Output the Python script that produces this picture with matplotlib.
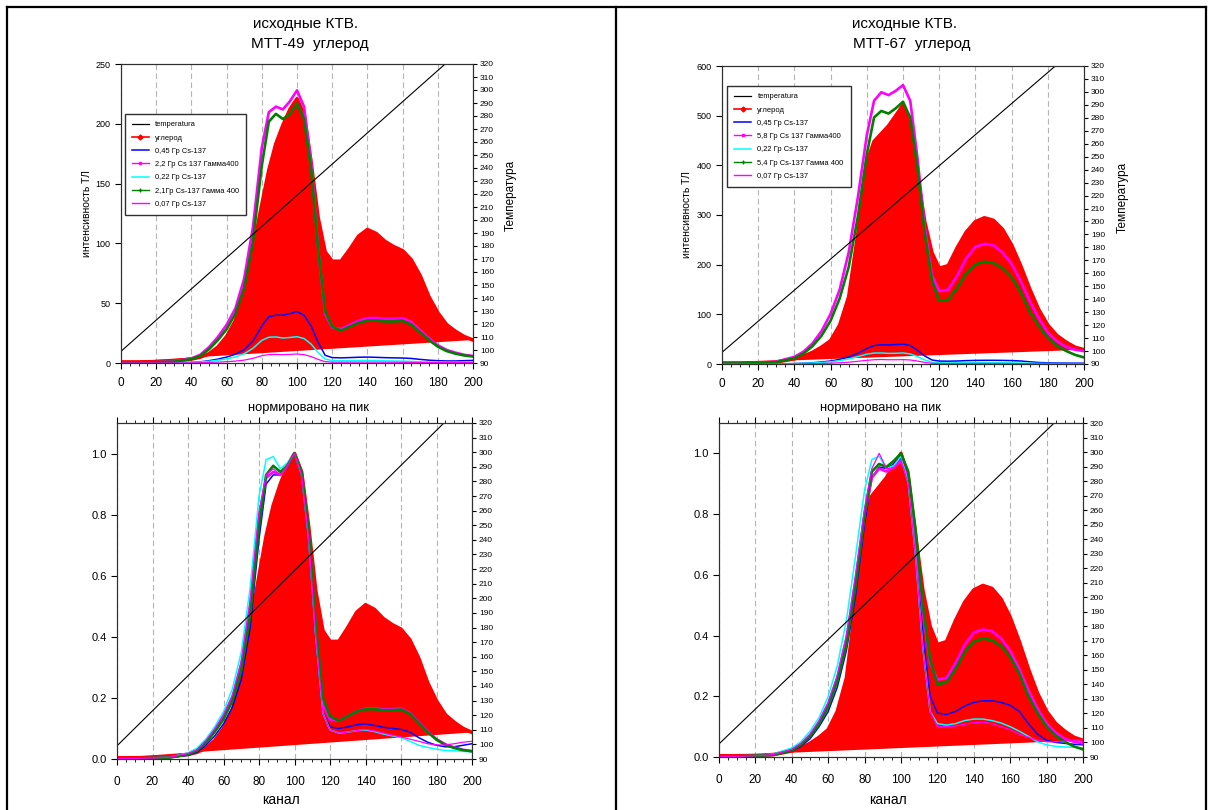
import matplotlib
matplotlib.use("Agg")
import matplotlib.pyplot as plt
from matplotlib.lines import Line2D
from matplotlib.ticker import MultipleLocator, FormatStrFormatter
import numpy as np

plt.rcParams['font.family'] = ['Liberation Sans', 'DejaVu Sans']

# channel grid (denser around the main peak)
channels = [0, 10, 20, 30, 40, 45, 50, 55, 60, 65, 70, 75, 80,
            84, 88, 92, 96, 100, 104, 108, 112, 116,
            120, 125, 130, 135, 140, 145, 150, 155, 160, 165, 170, 175, 180, 185, 190, 195, 200]

temp_ch = [0, 200]
temperature = [99, 339]

# ---- MTT-49 (left), curves normalised to peak ----
l_carbon = [0.004, 0.004, 0.005, 0.008, 0.015, 0.022, 0.035, 0.06, 0.1, 0.16, 0.28, 0.43, 0.6,
            0.73, 0.83, 0.9, 0.96, 1.0, 0.94, 0.76, 0.55, 0.42,
            0.385, 0.385, 0.43, 0.48, 0.505, 0.49, 0.46, 0.44, 0.425, 0.39, 0.33, 0.25, 0.19, 0.145, 0.12, 0.1, 0.087]
l_045 = [0.002, 0.002, 0.003, 0.005, 0.012, 0.022, 0.045, 0.075, 0.115, 0.17, 0.26, 0.43, 0.72,
         0.9, 0.93, 0.93, 0.96, 1.0, 0.93, 0.72, 0.4, 0.15,
         0.105, 0.1, 0.105, 0.112, 0.115, 0.11, 0.104, 0.1, 0.097, 0.088, 0.07, 0.055, 0.045, 0.04, 0.04, 0.045, 0.05]
l_22 = [0.002, 0.002, 0.003, 0.006, 0.017, 0.03, 0.058, 0.095, 0.14, 0.2, 0.31, 0.5, 0.79,
        0.92, 0.94, 0.93, 0.96, 1.0, 0.94, 0.74, 0.42, 0.18,
        0.13, 0.125, 0.14, 0.155, 0.165, 0.165, 0.163, 0.163, 0.165, 0.15, 0.12, 0.09, 0.065, 0.048, 0.038, 0.03, 0.026]
l_022 = [0.002, 0.002, 0.003, 0.006, 0.02, 0.035, 0.065, 0.105, 0.155, 0.23, 0.35, 0.56, 0.86,
         0.98, 0.99, 0.95, 0.97, 1.0, 0.93, 0.72, 0.4, 0.15,
         0.095, 0.085, 0.088, 0.093, 0.095, 0.09, 0.082, 0.076, 0.07, 0.058, 0.045, 0.038, 0.032, 0.028, 0.027, 0.025, 0.024]
l_21 = [0.002, 0.002, 0.003, 0.005, 0.015, 0.027, 0.053, 0.088, 0.13, 0.19, 0.29, 0.47, 0.76,
        0.93, 0.96, 0.94, 0.96, 1.0, 0.94, 0.75, 0.44, 0.2,
        0.14, 0.125, 0.14, 0.155, 0.163, 0.163, 0.16, 0.16, 0.162, 0.148, 0.118, 0.088, 0.063, 0.046, 0.036, 0.029, 0.025]
l_007 = [0.002, 0.002, 0.003, 0.006, 0.018, 0.03, 0.06, 0.098, 0.145, 0.21, 0.32, 0.52, 0.81,
         0.93, 0.95, 0.93, 0.96, 1.0, 0.93, 0.72, 0.4, 0.15,
         0.095, 0.085, 0.088, 0.093, 0.097, 0.092, 0.085, 0.078, 0.072, 0.065, 0.058, 0.05, 0.046, 0.046, 0.05, 0.055, 0.058]
l_peaks = [221, 43, 228, 22, 217, 7.5]

# ---- MTT-67 (right), curves normalised to peak ----
r_carbon = [0.004, 0.004, 0.005, 0.008, 0.02, 0.03, 0.045, 0.065, 0.09, 0.15, 0.26, 0.5, 0.78,
            0.86, 0.89, 0.92, 0.96, 1.0, 0.92, 0.73, 0.55, 0.43,
            0.37, 0.38, 0.45, 0.51, 0.55, 0.565, 0.555, 0.52, 0.46, 0.38, 0.29, 0.21, 0.15, 0.11, 0.085, 0.065, 0.055]
r_045 = [0.002, 0.002, 0.004, 0.006, 0.02, 0.035, 0.06, 0.1, 0.15, 0.23, 0.35, 0.53, 0.77,
         0.92, 0.955, 0.95, 0.965, 0.985, 0.92, 0.68, 0.4, 0.2,
         0.145, 0.14, 0.15, 0.168, 0.18, 0.185, 0.185, 0.18, 0.17, 0.15, 0.11, 0.075, 0.055, 0.048, 0.045, 0.042, 0.04]
r_58 = [0.002, 0.002, 0.004, 0.008, 0.025, 0.043, 0.072, 0.115, 0.175, 0.26, 0.39, 0.58, 0.8,
        0.92, 0.95, 0.94, 0.955, 0.975, 0.92, 0.72, 0.48, 0.31,
        0.255, 0.26, 0.31, 0.37, 0.41, 0.42, 0.415, 0.39, 0.35, 0.29, 0.22, 0.16, 0.11, 0.08, 0.06, 0.05, 0.045]
r_022 = [0.002, 0.002, 0.004, 0.01, 0.03, 0.05, 0.085, 0.13, 0.2, 0.3, 0.45, 0.66, 0.88,
         0.98, 0.99, 0.95, 0.96, 0.99, 0.9, 0.66, 0.36, 0.15,
         0.11, 0.105, 0.11, 0.12, 0.125, 0.125, 0.12, 0.112, 0.1, 0.085, 0.068, 0.05, 0.04, 0.035, 0.033, 0.032, 0.03]
r_54 = [0.002, 0.002, 0.004, 0.007, 0.022, 0.04, 0.068, 0.108, 0.165, 0.25, 0.37, 0.56, 0.8,
        0.94, 0.965, 0.955, 0.975, 1.0, 0.94, 0.75, 0.5, 0.32,
        0.24, 0.245, 0.29, 0.345, 0.38, 0.39, 0.385, 0.365, 0.33, 0.275, 0.2, 0.145, 0.1, 0.07, 0.05, 0.035, 0.025]
r_007 = [0.002, 0.002, 0.004, 0.008, 0.025, 0.045, 0.075, 0.12, 0.18, 0.27, 0.4, 0.6, 0.82,
         0.95, 1.0, 0.95, 0.95, 0.98, 0.9, 0.66, 0.36, 0.15,
         0.1, 0.1, 0.102, 0.108, 0.113, 0.115, 0.11, 0.1, 0.09, 0.075, 0.065, 0.055, 0.05, 0.05, 0.052, 0.055, 0.057]
r_peaks = [521, 40.5, 576, 22.5, 528, 9]

l_labels = ['temperatura', 'углерод', '0,45 Гр Cs-137', '2,2 Гр Cs 137 Гамма400',
            '0,22 Гр Cs-137', '2,1Гр Cs-137 Гамма 400', '0,07 Гр Cs-137']
r_labels = ['temperatura', 'углерод', '0,45 Гр Cs-137', '5,8 Гр Cs 137 Гамма400',
            '0,22 Гр Cs-137', '5,4 Гр Cs-137 Гамма 400', '0,07 Гр Cs-137']

W, H = 1211, 810

# legend proxies (series drawn with dense markers in the original)
legend_handles = [
    Line2D([], [], color='black', lw=0.9),
    Line2D([], [], color='red', lw=1.2, marker='D', ms=2.5),
    Line2D([], [], color='blue', lw=1.1),
    Line2D([], [], color='magenta', lw=1.0, marker='s', ms=1.8),
    Line2D([], [], color='cyan', lw=1.1),
    Line2D([], [], color='green', lw=1.0, marker='+', ms=3),
    Line2D([], [], color='magenta', lw=1.0),
]


def px_axes(fig, l, t, r, b):
    return fig.add_axes([l / W, 1 - b / H, (r - l) / W, (b - t) / H])


def draw(ax, series, scale, ymax, ystep, yfmt, top_ticks):
    vals = [np.array(s) * k for s, k in zip(series, scale)]
    ax.set_axisbelow(True)
    ax.fill(channels, vals[0], color='red', lw=0, zorder=1)
    ax.plot(channels, vals[0], color='red', lw=2.6, zorder=2)
    ax.plot(channels, vals[1], color='blue', lw=1.1, zorder=3)
    ax.plot(channels, vals[2], color='magenta', lw=1.9, zorder=3)
    ax.plot(channels, vals[3], color='cyan', lw=1.1, zorder=3)
    ax.plot(channels, vals[4], color='green', lw=1.9, zorder=3)
    ax.plot(channels, vals[5], color='magenta', lw=0.9, zorder=3)
    ax.set_xlim(0, 200)
    ax.set_ylim(0, ymax)
    ax.xaxis.set_major_locator(MultipleLocator(20))
    ax.xaxis.set_minor_locator(MultipleLocator(5))
    ax.yaxis.set_major_locator(MultipleLocator(ystep))
    ax.yaxis.set_major_formatter(FormatStrFormatter(yfmt))
    ax.grid(axis='x', color='#b4b4b4', ls=(0, (5, 3)), lw=0.8)
    ax.tick_params(axis='x', which='major', labelsize=8.5, length=4, top=top_ticks, pad=6)
    ax.tick_params(axis='x', which='minor', length=2.5, top=top_ticks)
    ax.tick_params(axis='y', labelsize=6.5, length=4)
    for s in ax.spines.values():
        s.set_color('#303030')

    tx = ax.twinx()
    tx.plot(temp_ch, temperature, color='black', lw=0.8)
    tx.set_ylim(90, 320)
    tx.yaxis.set_major_locator(MultipleLocator(10))
    tx.tick_params(axis='y', labelsize=6, length=3, pad=2)
    tx.set_xlim(0, 200)
    for s in tx.spines.values():
        s.set_color('#303030')
    return tx


fig = plt.figure(figsize=(W / 100, H / 100), dpi=100)

panels = [
    (px_axes(fig, 121, 64, 473, 363), [l_carbon, l_045, l_22, l_022, l_21, l_007], l_peaks, 250, 50, '%d', False, 'L', 'top'),
    (px_axes(fig, 722, 66, 1084, 364), [r_carbon, r_045, r_58, r_022, r_54, r_007], r_peaks, 600, 100, '%d', False, 'R', 'top'),
    (px_axes(fig, 117, 423, 472, 759), [l_carbon, l_045, l_22, l_022, l_21, l_007], [1] * 6, 1.1, 0.2, '%.1f', True, 'L', 'bot'),
    (px_axes(fig, 719, 423, 1083, 757), [r_carbon, r_045, r_58, r_022, r_54, r_007], [1] * 6, 1.1, 0.2, '%.1f', True, 'R', 'bot'),
]

for ax, ser, sc, ymax, ystep, fmt, top, side, row in panels:
    tx = draw(ax, ser, sc, ymax, ystep, fmt, top)
    if row == 'bot':
        ax.tick_params(axis='y', labelsize=8)
        ax.tick_params(axis='x', which='major', pad=8)
        continue
    ax.set_ylabel('интенсивность ТЛ', fontsize=7.5)
    ax.yaxis.set_label_coords(-0.083, 0.5)
    tx.set_ylabel('Температура', fontsize=8.5)
    tx.yaxis.set_label_coords(1.09, 0.56)
    labels = l_labels if side == 'L' else r_labels
    anchor = (0.01, 0.833) if side == 'L' else (0.014, 0.933)
    leg = tx.legend(legend_handles, labels, loc='upper left', bbox_to_anchor=anchor, fontsize=5.4,
                    frameon=True, fancybox=False, framealpha=1, edgecolor='#303030',
                    handlelength=2.3, labelspacing=0.8, borderpad=0.95, handletextpad=0.8,
                    borderaxespad=0)
    leg.get_frame().set_linewidth(1.0)

# titles and axis captions
fig.text(305 / W, 1 - 24 / H, 'исходные КТВ.', ha='center', va='center', fontsize=11)
fig.text(310 / W, 1 - 44 / H, 'МТТ-49  углерод', ha='center', va='center', fontsize=11)
fig.text(905 / W, 1 - 24 / H, 'исходные КТВ.', ha='center', va='center', fontsize=11)
fig.text(912 / W, 1 - 44 / H, 'МТТ-67  углерод', ha='center', va='center', fontsize=11)
fig.text(308 / W, 1 - 408 / H, 'нормировано на пик', ha='center', va='center', fontsize=9.3)
fig.text(881 / W, 1 - 408 / H, 'нормировано на пик', ha='center', va='center', fontsize=9.3)
fig.text(281 / W, 1 - 800 / H, 'канал', ha='center', va='center', fontsize=10)
fig.text(888 / W, 1 - 800 / H, 'канал', ha='center', va='center', fontsize=10)

# panel frames
for xs, ys in [([7, 7], [7, 810]), ([7, 1206], [7, 7]), ([616, 616], [7, 810]), ([1206, 1206], [7, 810])]:
    fig.add_artist(Line2D([x / W for x in xs], [1 - y / H for y in ys], color='black', lw=1.6))

fig.savefig('out.png', dpi=100)
